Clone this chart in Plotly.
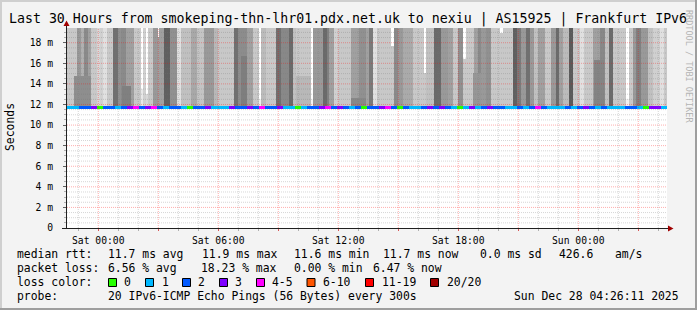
import plotly.graph_objects as go
import pandas as pd

# ---------------- data ----------------
START = "2025-12-26 22:26:11"
HOURS = 30

# smoke: start of each band (minutes after start), grey shade (0-255), top of smoke (ms)
smoke_start_min = [0, 29, 41, 51, 63, 73, 91, 99, 109, 121, 139, 153, 163, 176, 201, 221, 229, 237, 243, 259,
                   273, 277, 291, 309, 331, 341, 371, 391, 411, 441, 453, 501, 513, 541, 559, 576, 581, 597, 627, 642,
                   665, 679, 687, 732, 739, 769, 779, 787, 802, 812, 852, 877, 897, 907, 919, 929, 972, 980, 992, 1007,
                   1037, 1072, 1077, 1102, 1122, 1142, 1159, 1172, 1187, 1197, 1221, 1233, 1243, 1258, 1273, 1298, 1308, 1338, 1351, 1363,
                   1378, 1388, 1401, 1413, 1433, 1453, 1468, 1475, 1488, 1506, 1519, 1538, 1551, 1578, 1598, 1613, 1625, 1638, 1678, 1686,
                   1698, 1708, 1723, 1743, 1758, 1778, 1791]
smoke_shade = [200, 153, 176, 138, 160, 200, 216, 208, 224, 200, 112, 144, 138, 160, 200, 232, 208, 216, 200, 153,
               160, 160, 96, 144, 224, 192, 168, 196, 153, 184, 200, 112, 140, 160, 200, 240, 187, 200, 112, 136,
               106, 192, 200, 244, 153, 106, 128, 160, 208, 200, 160, 144, 160, 122, 224, 200, 200, 138, 153, 170,
               200, 200, 192, 106, 153, 160, 200, 144, 200, 200, 160, 138, 153, 144, 200, 200, 200, 96, 122, 153,
               112, 153, 192, 160, 200, 153, 106, 160, 187, 90, 200, 224, 200, 160, 136, 192, 106, 200, 240, 200,
               153, 128, 153, 192, 208, 224, 200]
smoke_top_ms = [20, 20, 20, 20, 20, 20, 20, 20, 20, 20, 20, 20, 20, 20, 20, 13.5, 20, 13.0, 20, 20,
                18.6, 20, 20, 20, 20, 20, 20, 20, 20, 20, 20, 20, 20, 20, 20, 12.5, 20, 20, 20, 20,
                20, 20, 20, 12.5, 20, 20, 20, 20, 20, 20, 20, 20, 20, 20, 20, 20, 17.7, 20, 20, 20,
                20, 15.1, 20, 20, 20, 20, 20, 20, 16.4, 20, 20, 20, 20, 20, 20, 18.9, 20, 20, 20, 20,
                20, 20, 20, 20, 20, 20, 20, 20, 20, 20, 20, 20, 20, 20, 20, 20, 20, 20, 12.5, 20,
                20, 20, 20, 20, 20, 20, 20]
smoke_floor_ms = 11.78

# denser smoke near the median in a few periods
core_start_min = [21, 165, 522, 687, 852, 1218, 1581]
core_end_min = [72, 192, 540, 732, 897, 1242, 1611]
core_top_ms = [14.8, 13.8, 16.7, 14.8, 12.6, 15.1, 16.3]
core_shade = [142, 128, 126, 184, 136, 150, 132]

# median rtt, one value per 18 minutes, and lost pings (of 20)
median_ms = [11.7] * 100
loss_pings = [1, 1, 2, 2, 3, 0, 2, 2, 1, 2, 3, 4, 2, 3, 4, 2, 1, 2, 2, 1, 0, 2, 2, 3, 1, 1, 1, 3, 2, 2, 3, 2, 4, 2,
              2, 3, 1, 1, 0, 1, 2, 2, 3, 4, 2, 3, 2, 1, 2, 0, 2, 2, 3, 4, 2, 0, 2, 1, 1, 2, 3, 2, 3, 2, 1, 0, 1,
              3, 1, 2, 3, 2, 2, 1, 1, 2, 1, 2, 4, 2, 1, 1, 1, 2, 1, 2, 3, 2, 1, 2, 1, 1, 1, 2, 2, 1, 0, 3, 3, 1]
loss_pings = loss_pings[:100]

y_tick_vals = [0, 2, 4, 6, 8, 10, 12, 14, 16, 18]
y_tick_text = ["0", "2 m", "4 m", "6 m", "8 m", "10 m", "12 m", "14 m", "16 m", "18 m"]

loss_labels = ["0", "1", "2", "3", "4-5", "6-10", "11-19", "20/20"]
loss_colors = ["#26ff00", "#00b8ff", "#0059ff", "#7e00ff", "#ff00ff", "#ff5500", "#ff0000", "#a10000"]

rtt_stats = ["11.7 ms avg", "11.9 ms max", "11.6 ms min", "11.7 ms now", "0.0 ms sd", "426.6", "am/s"]
loss_stats = ["6.56 % avg", "18.23 % max", "0.00 % min", "6.47 % now"]
title_text = "Last 30 Hours from smokeping-thn-lhr01.pdx.net.uk to nexiu | AS15925 | Frankfurt IPv6"
probe_text = "20 IPv6-ICMP Echo Pings (56 Bytes) every 300s"
stamp_text = "Sun Dec 28 04:26:11 2025"

# ---------------- layout geometry ----------------
W, H = 697, 310
L, R, T, B = 67, 30, 28, 82
PW, PH = W - L - R, H - T - B
YMAX = 19.43
MONO = "DejaVu Sans Mono"

start = pd.Timestamp(START)
end = start + pd.Timedelta(hours=HOURS)
MS_PER_MIN = 60000


def tmin(m):
    return start + pd.Timedelta(minutes=m)


def pxx(x):
    return (x - L) / PW


def pxy(y):
    return (H - B - y) / PH


def loss_bucket(n):
    if n <= 3:
        return n
    if n <= 5:
        return 4
    if n <= 10:
        return 5
    if n <= 19:
        return 6
    return 7


fig = go.Figure()

# smoke
ends = smoke_start_min[1:] + [HOURS * 60]
fig.add_trace(go.Bar(
    x=[tmin((s + e) / 2) for s, e in zip(smoke_start_min, ends)],
    width=[(e - s) * MS_PER_MIN for s, e in zip(smoke_start_min, ends)],
    base=[smoke_floor_ms] * len(smoke_start_min),
    y=[t - smoke_floor_ms for t in smoke_top_ms],
    marker=dict(color=[f"rgb({g},{g},{g})" for g in smoke_shade], line=dict(width=0)),
    hoverinfo="skip", showlegend=False,
))
fig.add_trace(go.Bar(
    x=[tmin((s + e) / 2) for s, e in zip(core_start_min, core_end_min)],
    width=[(e - s) * MS_PER_MIN for s, e in zip(core_start_min, core_end_min)],
    base=[smoke_floor_ms] * len(core_start_min),
    y=[t - smoke_floor_ms for t in core_top_ms],
    marker=dict(color=[f"rgb({g},{g},{g})" for g in core_shade], line=dict(width=0)),
    hoverinfo="skip", showlegend=False,
))

# median coloured by loss
cell = HOURS * 60 / len(median_ms)
fig.add_trace(go.Bar(
    x=[tmin((i + 0.5) * cell) for i in range(len(median_ms))],
    width=[cell * MS_PER_MIN] * len(median_ms),
    base=[m - 0.12 for m in median_ms],
    y=[0.23] * len(median_ms),
    marker=dict(color=[loss_colors[loss_bucket(n)] for n in loss_pings], line=dict(width=0)),
    hoverinfo="skip", showlegend=False,
))

shapes = []
# grid (drawn above the smoke, like rrdtool)
h = start.ceil("h")
while h <= end:
    major = h.hour % 3 == 0
    shapes.append(dict(type="line", xref="x", yref="paper", x0=h, x1=h, y0=0, y1=1, layer="above",
                       line=dict(color="rgba(255,0,0,0.32)" if major else "rgba(120,120,120,0.30)",
                                 width=1, dash="1px,1px")))
    h += pd.Timedelta(hours=1)
v = 0.5
while v < YMAX:
    major = abs(v / 2 - round(v / 2)) < 1e-9
    shapes.append(dict(type="line", xref="paper", yref="y", x0=0, x1=1, y0=v, y1=v, layer="above",
                       line=dict(color="rgba(255,0,0,0.32)" if major else "rgba(120,120,120,0.30)",
                                 width=1, dash="1px,1px")))
    v += 0.5

# axes lines and arrows
shapes.append(dict(type="line", xref="paper", yref="paper", x0=pxx(66.5), x1=pxx(66.5), y0=pxy(228), y1=pxy(24),
                   line=dict(color="#202020", width=1), layer="above"))
shapes.append(dict(type="line", xref="paper", yref="paper", x0=pxx(62), x1=pxx(670), y0=pxy(228.5), y1=pxy(228.5),
                   line=dict(color="#202020", width=1), layer="above"))
shapes.append(dict(type="path", xref="paper", yref="paper", layer="above",
                   path=f"M {pxx(63.5)},{pxy(26)} L {pxx(69.5)},{pxy(26)} L {pxx(66.5)},{pxy(20.5)} Z",
                   fillcolor="#a00000", line=dict(width=0)))
shapes.append(dict(type="path", xref="paper", yref="paper", layer="above",
                   path=f"M {pxx(668)},{pxy(225.5)} L {pxx(668)},{pxy(231.5)} L {pxx(673.5)},{pxy(228.5)} Z",
                   fillcolor="#a00000", line=dict(width=0)))

# frame (3D shade)
shapes.append(dict(type="rect", xref="paper", yref="paper", x0=pxx(0), x1=pxx(W), y0=pxy(0), y1=pxy(2),
                   fillcolor="#cfcfcf", line=dict(width=0)))
shapes.append(dict(type="rect", xref="paper", yref="paper", x0=pxx(0), x1=pxx(2), y0=pxy(0), y1=pxy(H),
                   fillcolor="#cfcfcf", line=dict(width=0)))
shapes.append(dict(type="rect", xref="paper", yref="paper", x0=pxx(0), x1=pxx(W), y0=pxy(H - 2), y1=pxy(H),
                   fillcolor="#9e9e9e", line=dict(width=0)))
shapes.append(dict(type="rect", xref="paper", yref="paper", x0=pxx(W - 2), x1=pxx(W), y0=pxy(0), y1=pxy(H),
                   fillcolor="#9e9e9e", line=dict(width=0)))

# loss colour swatches
sw_x = [108.5, 145.5, 182.5, 219.5, 256.5, 307, 365.5, 430.5]
for c, x0 in zip(loss_colors, sw_x):
    shapes.append(dict(type="rect", xref="paper", yref="paper", x0=pxx(x0), x1=pxx(x0 + 8),
                       y0=pxy(278.5), y1=pxy(286.5), fillcolor=c, line=dict(color="#000000", width=1)))

ann = []


def text(s, x, y, size=11.4, anchor="left", color="#000000", angle=0):
    ann.append(dict(text=s.replace(" ", "\u00a0"), x=pxx(x), y=pxy(y), xref="paper", yref="paper",
                    xanchor=anchor, yanchor="middle", showarrow=False, borderpad=0, textangle=angle,
                    font=dict(family=MONO, size=size, color=color)))


text(title_text, 347.5, 19, size=13.25, anchor="center")
text("Seconds", 10, 127, size=11.4, anchor="center", angle=-90)
text("RRDTOOL / TOBI OETIKER", 689, 66, size=8.5, anchor="center", color="#b4b4b4", angle=90)

row_y = [254, 268, 282, 296]
text("median rtt:", 16, row_y[0])
for s, x in zip(rtt_stats, [107.3, 201, 293.3, 381.7, 479, 558, 614]):
    text(s, x, row_y[0])
text("packet loss:", 16, row_y[1])
for s, x in zip(loss_stats, [107.3, 200, 293.3, 371.7]):
    text(s, x, row_y[1])
text("loss color:", 16, row_y[2])
for s, x in zip(loss_labels, [123.3, 160.7, 197.3, 234.3, 270.7, 321.7, 380.7, 446]):
    text(s, x, row_y[2])
text("probe:", 16, row_y[3])
text(probe_text, 107.3, row_y[3])
text(stamp_text, 513.3, row_y[3])

x_ticks = []
x_text = []
h = start.ceil("h")
while h <= end:
    if h.hour % 3 == 0:
        x_ticks.append(h)
        x_text.append(h.strftime("%a %H:%M") if h.hour % 6 == 0 else "")
    h += pd.Timedelta(hours=1)

fig.update_layout(
    width=W, height=H, margin=dict(l=L, r=R, t=T, b=B, pad=0),
    paper_bgcolor="#f3f3f3", plot_bgcolor="#ffffff",
    barmode="overlay", bargap=0, showlegend=False,
    shapes=shapes, annotations=ann,
    xaxis=dict(type="date", range=[start, end], showgrid=False, zeroline=False, showline=False,
               tickvals=x_ticks, ticktext=x_text, ticks="outside", ticklen=2, tickcolor="rgba(255,0,0,0.5)",
               tickfont=dict(family=MONO, size=9.7, color="#000000"), ticklabelstandoff=1,
               minor=dict(ticks="outside", ticklen=2, tickcolor="#b0b0b0", dtick=3600000,
                          tick0=start.ceil("h"), showgrid=False)),
    yaxis=dict(range=[0, YMAX], showgrid=False, zeroline=False, showline=False,
               tickvals=y_tick_vals, ticktext=y_tick_text, ticks="outside", ticklen=3, tickcolor="#606060",
               tickfont=dict(family=MONO, size=9.7, color="#000000"), ticklabelstandoff=8,
               minor=dict(ticks="outside", ticklen=2, tickcolor="#b0b0b0", dtick=0.5, showgrid=False)),
)

fig.write_html("out.html")
